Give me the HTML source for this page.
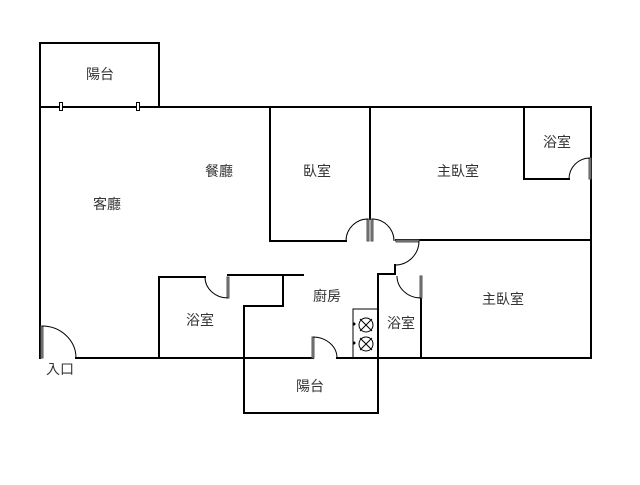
<!DOCTYPE html>
<html><head><meta charset="utf-8"><style>
body{margin:0;background:#fff;width:640px;height:480px;overflow:hidden}
text{font-family:"Liberation Sans","Noto Sans CJK TC",sans-serif;font-size:14px;fill:#333}
</style></head><body>
<svg width="640" height="480" xmlns="http://www.w3.org/2000/svg">
<g stroke="#000" stroke-width="2" fill="none" stroke-linecap="square">
<!-- top balcony -->
<polyline points="40,107 40,43 159,43 159,107"/>
<line x1="40" y1="107" x2="591" y2="107"/>
<!-- left wall -->
<line x1="40" y1="107" x2="40" y2="358"/>
<!-- bottom wall -->
<line x1="76" y1="358" x2="313" y2="358"/>
<line x1="337" y1="358" x2="591" y2="358"/>
<line x1="591" y1="107" x2="591" y2="358"/>
<!-- bedroom -->
<polyline points="270,107 270,241 346,241"/>
<line x1="370" y1="107" x2="370" y2="219"/>
<line x1="396" y1="240" x2="591" y2="240"/>
<!-- master bath -->
<polyline points="524,107 524,179 569,179"/>
<!-- lower bath left -->
<polyline points="205,277 159,277 159,358"/>
<polyline points="228,275 303,275"/>
<polyline points="283,275 283,306 244,306 244,413 378,413 378,274 395,274 395,265"/>
<line x1="421" y1="297" x2="421" y2="358"/>
</g>
<g stroke="#000" stroke-width="1" fill="none">
<!-- window marks -->
<rect x="59.5" y="102.5" width="3" height="8" fill="#fff"/>
<rect x="136.5" y="102.5" width="3" height="8" fill="#fff"/>
<!-- entry door -->
<rect x="41" y="326" width="2" height="32" fill="#888" stroke="#555"/>
<path d="M42,326 A34,32 0 0 1 76,358"/>
<!-- bath left door -->
<rect x="227" y="277" width="2" height="21" fill="#888" stroke="#555"/>
<path d="M205,277 A23,21 0 0 0 228,298"/>
<!-- balcony door -->
<rect x="312" y="337" width="2" height="21" fill="#888" stroke="#555"/>
<path d="M313,337 A24,21 0 0 1 337,358"/>
<!-- bedroom double doors -->
<rect x="367" y="219" width="2" height="22" fill="#888" stroke="#555"/>
<rect x="371" y="219" width="2" height="22" fill="#888" stroke="#555"/>
<path d="M346,241 A22,22 0 0 1 368,219"/>
<path d="M372,219 A22,22 0 0 1 394,241"/>
<!-- master bedroom door -->
<rect x="396" y="240" width="23" height="2" fill="#888" stroke="#555"/>
<path d="M419,241 A24,24 0 0 1 395,265"/>
<!-- lower bath door -->
<rect x="420" y="276" width="2" height="22" fill="#888" stroke="#555"/>
<path d="M397,276 A24,22 0 0 0 421,298"/>
<!-- master bath door -->
<rect x="589" y="158" width="2" height="21" fill="#888" stroke="#555"/>
<path d="M569,179 A21,21 0 0 1 590,158"/>
<!-- stove -->
<rect x="353" y="309" width="25" height="49"/>
<circle cx="366" cy="325" r="7"/><circle cx="366" cy="344" r="7"/>
<path d="M360,319 L372,331 M372,319 L360,331 M360,338 L372,350 M372,338 L360,350"/>
</g>
<circle cx="354" cy="324" r="1.5" fill="#000"/><circle cx="354" cy="343" r="1.5" fill="#000"/>
<g text-anchor="middle">
<text x="100" y="79">陽台</text>
<text x="107" y="209">客廳</text>
<text x="219" y="176">餐廳</text>
<text x="317" y="176">臥室</text>
<text x="458" y="176">主臥室</text>
<text x="557" y="147">浴室</text>
<text x="327" y="301">廚房</text>
<text x="200" y="325">浴室</text>
<text x="401" y="328">浴室</text>
<text x="503" y="304">主臥室</text>
<text x="310" y="391">陽台</text>
<text x="60" y="374">入口</text>
</g>
</svg>
</body></html>
